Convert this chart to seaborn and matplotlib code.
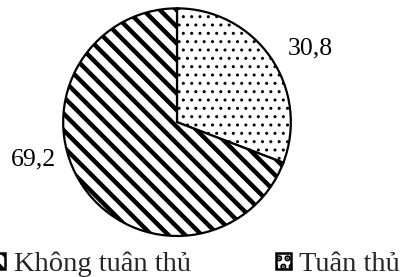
import matplotlib
matplotlib.use("Agg")
import matplotlib.pyplot as plt
import numpy as np
import seaborn as sns
from matplotlib.patches import Patch

# data
categories = ["Tuân thủ", "Không tuân thủ"]
values = [30.8, 69.2]
value_labels = ["30,8", "69,2"]
hatches = ["..", "\\\\"]
hatch_widths = [1.0, 3.2]
legend_order = ["Không tuân thủ", "Tuân thủ"]

# label placement (angle in degrees, distance as fraction of radius)
label_pos = [(28.7, 1.34), (194.7, 1.30)]

sns.set_theme(style="white")
plt.rcParams["font.family"] = ["Liberation Serif", "DejaVu Serif"]
plt.rcParams["hatch.linewidth"] = 3.2


def set_hlw(patch, lw):
    if hasattr(patch, "set_hatch_linewidth"):
        patch.set_hatch_linewidth(lw)


fig = plt.figure(figsize=(4.0, 2.77), dpi=100)
ax = fig.add_axes([0.155, 0.144, 0.575, 0.830])

wedges, _ = ax.pie(
    values, startangle=90, counterclock=False,
    colors=["white", "white"],
    wedgeprops={"edgecolor": "black", "linewidth": 1.6},
)
for w, h, lw in zip(wedges, hatches, hatch_widths):
    w.set_hatch(h)
    set_hlw(w, lw)

for (ang, dist), txt in zip(label_pos, value_labels):
    a = np.deg2rad(ang)
    ax.text(dist * np.cos(a), dist * np.sin(a), txt, ha="center", va="center",
            fontsize=18.5, color="black")
ax.set_aspect("equal")
ax.set_xlim(-1.01, 1.01)
ax.set_ylim(-1.01, 1.01)
ax.axis("off")

handles = []
for c in legend_order:
    i = categories.index(c)
    p = Patch(facecolor="white", edgecolor="black", hatch=hatches[i], linewidth=1.8)
    set_hlw(p, 1.5)
    handles.append(p)
fig.legend(handles, legend_order, loc="lower left", bbox_to_anchor=(-0.022, 0.0),
           ncol=2, frameon=False, fontsize=20.5, handlelength=0.5, handleheight=0.5,
           handletextpad=0.3, columnspacing=3.0, borderpad=0, borderaxespad=0)

fig.savefig("out.png", dpi=100)
